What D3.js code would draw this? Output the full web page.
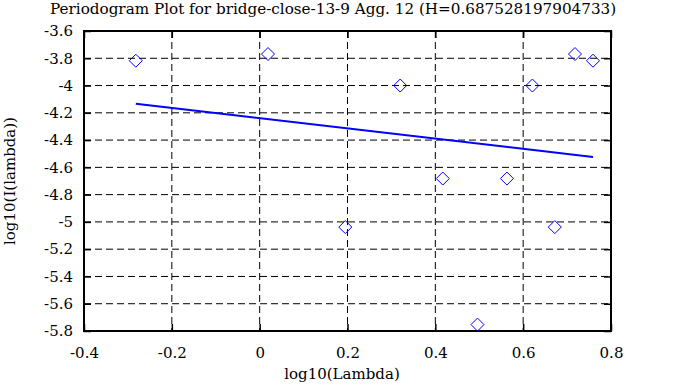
<!DOCTYPE html>
<html>
<head>
<meta charset="utf-8">
<script src="https://cdn.jsdelivr.net/npm/d3@7"></script>
<style>
  body { margin: 0; background: #fff; }
  svg { display: block; }
  svg text { font-family: "DejaVu Serif", "Liberation Serif", serif; font-size: 15px; fill: #000; }
</style>
</head>
<body>
<div id="chart"></div>
<script>
// periodogram points
const lambdaLog = [-0.282, 0.019, 0.195, 0.320, 0.417, 0.496, 0.563, 0.621, 0.672, 0.718, 0.759];
const periodLog = [-3.818, -3.769, -5.038, -4.0, -4.682, -5.753, -4.682, -4.0, -5.038, -3.769, -3.818];

// fitted line (slope = 1 - 2H)
const fitX = [-0.282, 0.759];
const fitY = [-4.134, -4.524];

const xTicks = [-0.4, -0.2, 0, 0.2, 0.4, 0.6, 0.8];
const yTicks = [-3.6, -3.8, -4, -4.2, -4.4, -4.6, -4.8, -5, -5.2, -5.4, -5.6, -5.8];

const title = "Periodogram Plot for bridge-close-13-9 Agg. 12 (H=0.687528197904733)";

const width = 695, height = 387;
const margin = { left: 84, right: 84, top: 31, bottom: 56 };

const svg = d3.select("#chart")
  .append("svg")
  .attr("width", width)
  .attr("height", height);

const x = d3.scaleLinear()
  .domain([-0.4, 0.8])
  .range([margin.left, width - margin.right]);

const y = d3.scaleLinear()
  .domain([-5.8, -3.6])
  .range([height - margin.bottom, margin.top]);

const x0 = x.range()[0], x1 = x.range()[1];
const y0 = y.range()[0], y1 = y.range()[1];

// dashed grid
svg.append("g")
  .selectAll("line")
  .data(xTicks.slice(1, -1))
  .enter()
  .append("line")
  .attr("x1", d => x(d)).attr("x2", d => x(d))
  .attr("y1", y1).attr("y2", y0)
  .attr("stroke", "#000")
  .attr("stroke-dasharray", "7,4");

svg.append("g")
  .selectAll("line")
  .data(yTicks.slice(1, -1))
  .enter()
  .append("line")
  .attr("x1", x0).attr("x2", x1)
  .attr("y1", d => y(d)).attr("y2", d => y(d))
  .attr("stroke", "#000")
  .attr("stroke-dasharray", "7,4");

// axes (ticks pointing inward)
const fmt = d => String(+d.toFixed(1));

svg.append("g")
  .attr("transform", "translate(0," + y0 + ")")
  .call(d3.axisBottom(x).tickValues(xTicks).tickSize(-7).tickPadding(16).tickFormat(fmt))
  .call(g => g.select(".domain").remove());

svg.append("g")
  .attr("transform", "translate(0," + y1 + ")")
  .call(d3.axisTop(x).tickValues(xTicks).tickSize(-7).tickFormat(""))
  .call(g => g.select(".domain").remove());

svg.append("g")
  .attr("transform", "translate(" + x0 + ",0)")
  .call(d3.axisLeft(y).tickValues(yTicks).tickSize(-7).tickPadding(11).tickFormat(fmt))
  .call(g => g.select(".domain").remove());

svg.append("g")
  .attr("transform", "translate(" + x1 + ",0)")
  .call(d3.axisRight(y).tickValues(yTicks).tickSize(-7).tickFormat(""))
  .call(g => g.select(".domain").remove());

svg.selectAll("g").attr("font-family", null).attr("font-size", null);
svg.selectAll(".tick line").attr("stroke", "#000").attr("stroke-width", 1.5);

// border
svg.append("rect")
  .attr("x", x0).attr("y", y1)
  .attr("width", x1 - x0).attr("height", y0 - y1)
  .attr("fill", "none")
  .attr("stroke", "#000")
  .attr("stroke-width", 2);

// fitted line
const line = d3.line()
  .x((d, i) => x(fitX[i]))
  .y(d => y(d));

svg.append("path")
  .datum(fitY)
  .attr("d", line)
  .attr("fill", "none")
  .attr("stroke", "#0000ff")
  .attr("stroke-width", 2);

// diamond markers
svg.append("g")
  .selectAll("path")
  .data(lambdaLog)
  .enter()
  .append("path")
  .attr("transform", (d, i) => "translate(" + x(d) + "," + y(periodLog[i]) + ")")
  .attr("d", "M0,-6.5L6.5,0L0,6.5L-6.5,0Z")
  .attr("fill", "none")
  .attr("stroke", "#0000ff")
  .attr("stroke-width", 1);

// title and axis labels
svg.append("text")
  .attr("x", 50)
  .attr("y", 14)
  .style("font-size", "15.2px")
  .text(title);

svg.append("text")
  .attr("x", 342)
  .attr("y", 379)
  .attr("text-anchor", "middle")
  .text("log10(Lambda)");

svg.append("text")
  .attr("transform", "translate(15," + (y0 + y1) / 2 + ") rotate(-90)")
  .attr("text-anchor", "middle")
  .text("log10(I(lambda))");
</script>
</body>
</html>
